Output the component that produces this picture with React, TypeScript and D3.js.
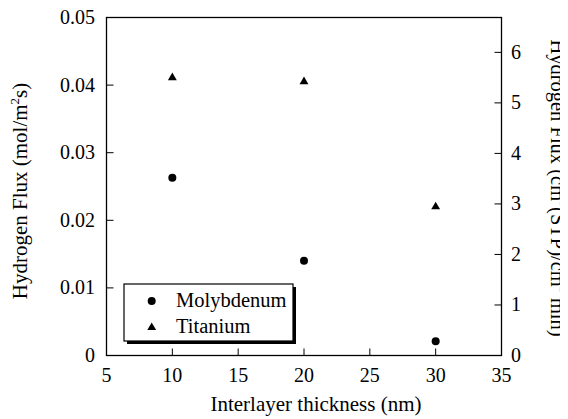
import React from "react";
import * as d3 from "d3";

const thickness = [10, 20, 30];
const molybdenum = [0.0263, 0.0140, 0.0021];
const titanium = [0.0411, 0.0405, 0.0220];
const xTicks = [5, 10, 15, 20, 25, 30, 35];
const yTicks = [0, 0.01, 0.02, 0.03, 0.04, 0.05];
const yTickLabels = ["0", "0.01", "0.02", "0.03", "0.04", "0.05"];
const y2Ticks = [0, 1, 2, 3, 4, 5, 6];

const W = 568;
const H = 419;
const L = 106.5, R = 501.5, T = 17.5, B = 355.5;
const fam = "Liberation Serif";

export default function App() {
  const x = d3.scaleLinear().domain([5, 35]).range([L, R]);
  const y = d3.scaleLinear().domain([0, 0.05]).range([B, T]);
  const y2 = d3.scaleLinear().domain([0, 6.69]).range([B, T]);
  const tri = d3.symbol().type(d3.symbolTriangle).size(34)();
  const tick = 7;

  return (
    <div style={{ margin: "-8px 0 0 -8px", width: W, height: H }}>
      <svg width={W} height={H}>
        <rect x={0} y={0} width={W} height={H} fill="#fff" />
        <rect x={L} y={T} width={R - L} height={B - T} fill="none" stroke="#000" strokeWidth={1.3} />
        {xTicks.filter((t) => t !== 5 && t !== 35).map((t) => (
          <line key={"xt" + t} x1={x(t)} x2={x(t)} y1={B} y2={B - tick} stroke="#000" strokeWidth={1} />
        ))}
        {xTicks.map((t) => (
          <text key={"xl" + t} x={x(t)} y={381.5} textAnchor="middle" fontSize={20} style={{ fontFamily: `"${fam}", monospace` }}>
            {String(t)}
          </text>
        ))}
        {yTicks.slice(1, -1).map((t) => (
          <line key={"yt" + t} x1={L} x2={L + tick} y1={y(t)} y2={y(t)} stroke="#000" strokeWidth={1} />
        ))}
        {yTicks.map((t, i) => (
          <text key={"yl" + t} x={95} y={y(t) + 6.5} textAnchor="end" fontSize={20} style={{ fontFamily: `"${fam}", monospace` }}>
            {yTickLabels[i]}
          </text>
        ))}
        {y2Ticks.slice(1).map((t) => (
          <line key={"rt" + t} x1={R} x2={R - tick} y1={y2(t)} y2={y2(t)} stroke="#000" strokeWidth={1} />
        ))}
        {y2Ticks.map((t) => (
          <text key={"rl" + t} x={511} y={y2(t) + 6.5} fontSize={20} style={{ fontFamily: `"${fam}", monospace` }}>
            {String(t)}
          </text>
        ))}
        <text x={316} y={411} textAnchor="middle" fontSize={21} style={{ fontFamily: `"${fam}", monospace` }}>
          Interlayer thickness (nm)
        </text>
        <text transform="translate(27,191) rotate(-90)" textAnchor="middle" fontSize={21} style={{ fontFamily: `"${fam}", monospace` }}>
          Hydrogen Flux (mol/m<tspan fontSize={13} dy={-8}>2</tspan><tspan dy={8}>s)</tspan>
        </text>
        <text transform="translate(551,188) rotate(90)" textAnchor="middle" fontSize={20.5} style={{ fontFamily: `"${fam}", monospace` }}>
          Hydrogen Flux (cm<tspan fontSize={12} dy={-9}>3</tspan><tspan dy={9}>(STP)/cm</tspan><tspan fontSize={12} dy={-9}>2</tspan><tspan dy={9}> min)</tspan>
        </text>
        {thickness.map((t, i) => (
          <circle key={"m" + t} cx={x(t)} cy={y(molybdenum[i])} r={4} fill="#000" />
        ))}
        {thickness.map((t, i) => (
          <path key={"t" + t} d={tri!} transform={`translate(${x(t)},${y(titanium[i])})`} fill="#000" />
        ))}
        <rect x={127} y={287} width={169} height={57} fill="#000" />
        <rect x={124} y={284} width={169} height={57} fill="#fff" stroke="#000" strokeWidth={1.2} />
        <circle cx={151.7} cy={301} r={4} fill="#000" />
        <text x={176} y={306.5} fontSize={20.5} style={{ fontFamily: `"${fam}", monospace` }}>Molybdenum</text>
        <path d={tri!} transform="translate(151.7,327.5)" fill="#000" />
        <text x={176} y={333} fontSize={20.5} style={{ fontFamily: `"${fam}", monospace` }}>Titanium</text>
      </svg>
    </div>
  );
}
